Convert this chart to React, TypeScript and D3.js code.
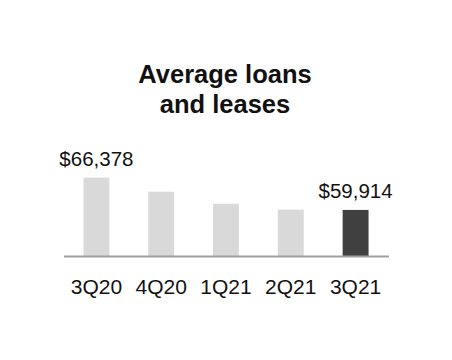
import React from "react";
import * as d3 from "d3";

const categories = ["3Q20", "4Q20", "1Q21", "2Q21", "3Q21"];
const values = [66378, 63560, 61160, 59980, 59914];
const valueLabels = ["$66,378", "", "", "", "$59,914"];
const titleLines = ["Average loans", "and leases"];

export default function App() {
  const W = 452, H = 360;
  const x = d3.scaleBand<string>().domain(categories).range([64, 388]).paddingInner(0.6).paddingOuter(0.3);
  const y = d3.scaleLinear().domain([50700, 70000]).range([256, 159.5]);
  const font = "Liberation Sans, Arial, Helvetica, sans-serif";
  return (
    <svg width={W} height={H} style={{ position: "absolute", left: 0, top: 0, background: "#fff" }}>
      {titleLines.map((t, i) => (
        <text key={t} x={225} y={83 + i * 30} textAnchor="middle" fontFamily={font} fontWeight="bold" fontSize={25.5} fill="#111">{t}</text>
      ))}
      {categories.map((c, i) => (
        <rect key={c} x={x(c)} y={y(values[i])} width={x.bandwidth()} height={y.range()[0] - y(values[i])}
          fill={i === categories.length - 1 ? "#404040" : "#d9d9d9"} />
      ))}
      <line x1={64} x2={389} y1={256.5} y2={256.5} stroke="#a0a0a0" strokeWidth={2} />
      {categories.map((c, i) => valueLabels[i] ? (
        <text key={"v" + c} x={(x(c) as number) + x.bandwidth() / 2} y={y(values[i]) - 12} textAnchor="middle"
          fontFamily={font} fontSize={20.5} fill="#111">{valueLabels[i]}</text>
      ) : null)}
      {categories.map((c) => (
        <text key={"c" + c} x={(x(c) as number) + x.bandwidth() / 2} y={294} textAnchor="middle"
          fontFamily={font} fontSize={21} fill="#111">{c}</text>
      ))}
    </svg>
  );
}
